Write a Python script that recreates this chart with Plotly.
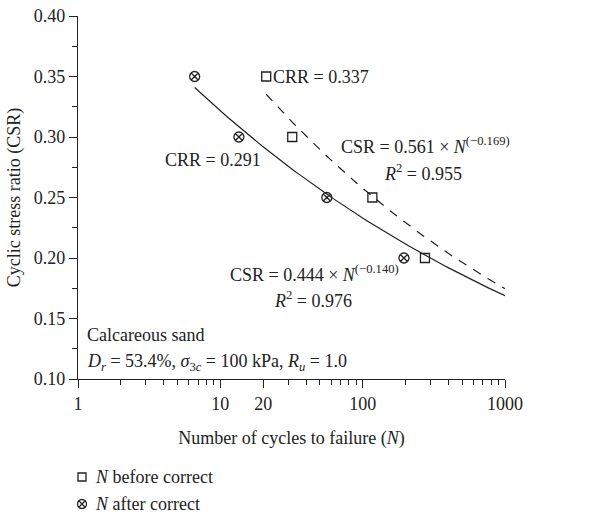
import numpy as np
import plotly.graph_objects as go

# Cyclic test results (CSR vs. number of cycles to failure)
csr_levels = [0.35, 0.30, 0.25, 0.20]
n_before = [21, 32, 117, 274]
n_after = [6.6, 13.5, 56, 195]

# Power-law fits: CSR = a * N^b
fit_before = {"a": 0.561, "b": -0.169, "r2": 0.955, "n_start": 21}
fit_after = {"a": 0.444, "b": -0.140, "r2": 0.976, "n_start": 6.6}
n_end = 1000

x_tick_vals = [1, 10, 20, 100, 1000]
x_tick_text = ["1", "10", "20", "100", "1000"]
y_tick_vals = [0.10, 0.15, 0.20, 0.25, 0.30, 0.35, 0.40]

legend_labels = ["<i>N</i> before correct", "<i>N</i> after correct"]

FONT = "Liberation Serif"
FS = 18
INK = "#222222"

# figure size and data-area edges in pixels
W, H = 611, 515
L, R, T, B = 78, 505, 16, 379


def fit_curve(fit):
    n = np.logspace(np.log10(fit["n_start"]), np.log10(n_end), 120)
    return n, fit["a"] * n ** fit["b"]


fig = go.Figure()

nb, cb = fit_curve(fit_before)
fig.add_trace(go.Scatter(x=nb, y=cb, mode="lines", showlegend=False,
                         line=dict(color=INK, width=1.2, dash="9px,8px")))
na, ca = fit_curve(fit_after)
fig.add_trace(go.Scatter(x=na, y=ca, mode="lines", showlegend=False,
                         line=dict(color=INK, width=1.2)))

sq_marker = dict(symbol="square-open", size=9, color=INK, line=dict(width=1.3))
cx_marker = dict(symbol="circle-x-open", size=10, color=INK, line=dict(width=1.3))

fig.add_trace(go.Scatter(x=n_before, y=csr_levels, mode="markers",
                         showlegend=False, marker=sq_marker))
fig.add_trace(go.Scatter(x=n_after, y=csr_levels, mode="markers",
                         showlegend=False, marker=cx_marker))

# Key below the plot, on a hidden full-figure axis pair in pixel units
key_y = [477, 504]
fig.add_trace(go.Scatter(x=[82], y=[key_y[0]], mode="markers", xaxis="x2", yaxis="y2",
                         showlegend=False, cliponaxis=False,
                         marker=dict(sq_marker, size=8)))
fig.add_trace(go.Scatter(x=[82], y=[key_y[1]], mode="markers", xaxis="x2", yaxis="y2",
                         showlegend=False, cliponaxis=False,
                         marker=dict(cx_marker, size=9)))


def note(text, x, y, xanchor="left", size=FS):
    fig.add_annotation(text=text, x=x, y=y, xref="x2", yref="y2",
                       xanchor=xanchor, yanchor="middle", showarrow=False,
                       font=dict(family=FONT, size=size, color=INK))


for label, ky in zip(legend_labels, key_y):
    note(label, 93, ky)

note(f"CRR = {0.337:.3f}", 271, 77)
note(f"CRR = {0.291:.3f}", 213, 160, "center")
note(f"CSR = {fit_before['a']:.3f} × <i>N</i><sup>(−{-fit_before['b']:.3f})</sup>",
     339, 145)
note(f"<i>R</i><sup>2</sup> = {fit_before['r2']:.3f}", 423, 172, "center")
note(f"CSR = {fit_after['a']:.3f} × <i>N</i><sup>(−{-fit_after['b']:.3f})</sup>",
     228, 273)
note(f"<i>R</i><sup>2</sup> = {fit_after['r2']:.3f}", 313, 299, "center")
note("Calcareous sand", 85, 335)
note("<i>D</i><sub><i>r</i></sub> = 53.4%, <i>σ</i><sub>3<i>c</i></sub> = 100 kPa, "
     "<i>R</i><sub><i>u</i></sub> = 1.0", 85, 362)

axis_common = dict(
    showline=True, linecolor=INK, linewidth=1.2, showgrid=False, zeroline=False,
    ticks="outside", tickcolor=INK, ticklen=8, tickwidth=1,
    tickfont=dict(family=FONT, size=FS, color=INK),
    mirror=False, automargin=False,
)

inner_h = H - T  # bottom margin is zero; the key lives in the lower band
fig.update_layout(
    width=W, height=H,
    margin=dict(l=L, r=W - R, t=T, b=0),
    paper_bgcolor="white", plot_bgcolor="rgba(0,0,0,0)",
    font=dict(family=FONT, size=FS, color=INK),
    showlegend=False,
    xaxis=dict(
        domain=[0, 1], anchor="y",
        type="log", range=[0, 3], tickvals=x_tick_vals, ticktext=x_tick_text,
        minor=dict(ticks="outside", ticklen=5, tickcolor=INK, dtick="D1"),
        title=dict(text="Number of cycles to failure (<i>N</i>)",
                   font=dict(family=FONT, size=FS, color=INK), standoff=18),
        **axis_common,
    ),
    yaxis=dict(
        domain=[(H - B) / inner_h, 1], anchor="x",
        range=[0.10, 0.40], tickvals=y_tick_vals, tickformat=".2f",
        minor=dict(ticks="outside", ticklen=5, tickcolor=INK, dtick=0.025),
        title=dict(text="Cyclic stress ratio (CSR)",
                   font=dict(family=FONT, size=FS, color=INK), standoff=8),
        **axis_common,
    ),
    xaxis2=dict(domain=[0, 1], anchor="y2", range=[L, R], visible=False,
                fixedrange=True),
    yaxis2=dict(domain=[0, 1], anchor="x2", range=[H, T], visible=False,
                fixedrange=True),
)

fig.write_html("out.html")
